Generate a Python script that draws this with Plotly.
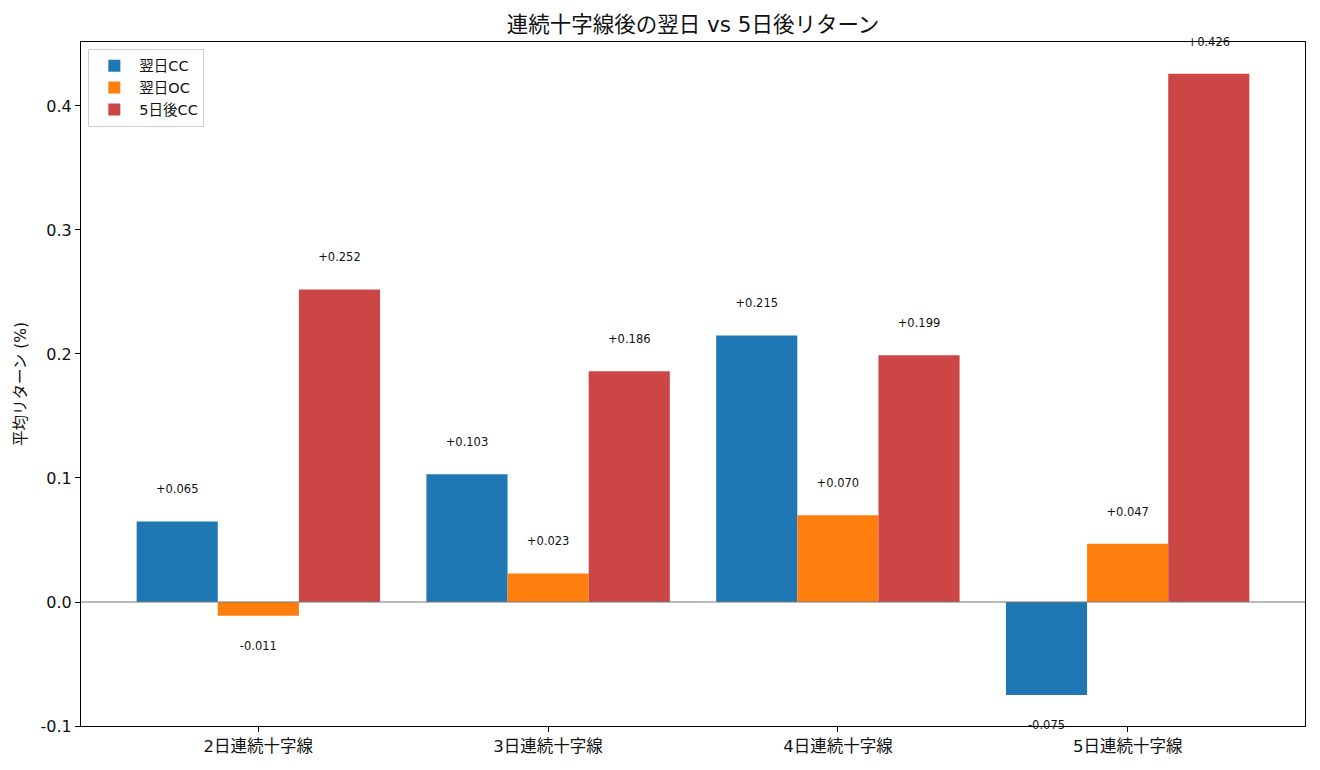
import plotly.graph_objects as go

categories = ["2日連続十字線", "3日連続十字線", "4日連続十字線", "5日連続十字線"]
series_names = ["翌日CC", "翌日OC", "5日後CC"]
next_cc = [0.065, 0.103, 0.215, -0.075]
next_oc = [-0.011, 0.023, 0.070, 0.047]
day5_cc = [0.252, 0.186, 0.199, 0.426]
y_ticks = [-0.1, 0.0, 0.1, 0.2, 0.3, 0.4]
y_tick_labels = ["-0.1", "0.0", "0.1", "0.2", "0.3", "0.4"]

colors = ["#1f77b4", "#ff7f0e", "#cc4646"]
FONT = "DejaVu Sans, Noto Sans CJK JP, sans-serif"
width = 0.28
offsets = [-width, 0.0, width]
series = [next_cc, next_oc, day5_cc]

fig = go.Figure()
for name, vals, col, off in zip(series_names, series, colors, offsets):
    xs = [i + off for i in range(len(categories))]
    fig.add_trace(go.Bar(x=xs, y=vals, width=width, name=name,
                         marker=dict(color=col, line=dict(width=0))))

lab_x, lab_y, lab_t = [], [], []
for vals, off in zip(series, offsets):
    for i, v in enumerate(vals):
        lab_x.append(i + off)
        lab_y.append(v + 0.025 if v >= 0 else v - 0.025)
        lab_t.append(f"{v:+.3f}")
fig.add_trace(go.Scatter(x=lab_x, y=lab_y, text=lab_t, mode="text",
                         textposition="middle center",
                         textfont=dict(family=FONT, size=11.5, color="#111"),
                         showlegend=False, hoverinfo="skip", cliponaxis=False))

fig.add_shape(type="line", xref="paper", x0=0, x1=1, yref="y", y0=0, y1=0,
              line=dict(color="#777777", width=1), layer="above")

fig.update_layout(
    width=1320, height=770,
    margin=dict(l=81, r=15, t=42, b=44),
    paper_bgcolor="white", plot_bgcolor="white",
    barmode="overlay",
    font=dict(family=FONT, size=16, color="#111"),
    title=dict(text="連続十字線後の翌日 vs 5日後リターン", x=0.5, xref="paper", xanchor="center",
               y=1 - 24 / 770, yanchor="middle", font=dict(size=21.5, family=FONT)),
    legend=dict(x=0.006, y=0.99, xanchor="left", yanchor="top",
                bgcolor="rgba(255,255,255,0.8)", bordercolor="#cccccc", borderwidth=1,
                itemwidth=40, tracegroupgap=0,
                font=dict(size=14.5, family=FONT)),
    xaxis=dict(range=[-0.612, 3.612], tickvals=list(range(len(categories))),
               ticktext=categories, showgrid=False, zeroline=False,
               showline=True, linecolor="black", linewidth=1, mirror=True,
               ticks="outside", ticklen=5, tickcolor="black",
               tickfont=dict(size=16.5, family=FONT)),
    yaxis=dict(range=[-0.1, 0.4516], tickvals=y_ticks, ticktext=y_tick_labels,
               showgrid=False, zeroline=False,
               showline=True, linecolor="black", linewidth=1, mirror=True,
               ticks="outside", ticklen=5, tickcolor="black",
               tickfont=dict(size=16, family=FONT),
               title=dict(text="平均リターン (%)", font=dict(size=15.5, family=FONT), standoff=10)),
)

fig.write_html("out.html")
